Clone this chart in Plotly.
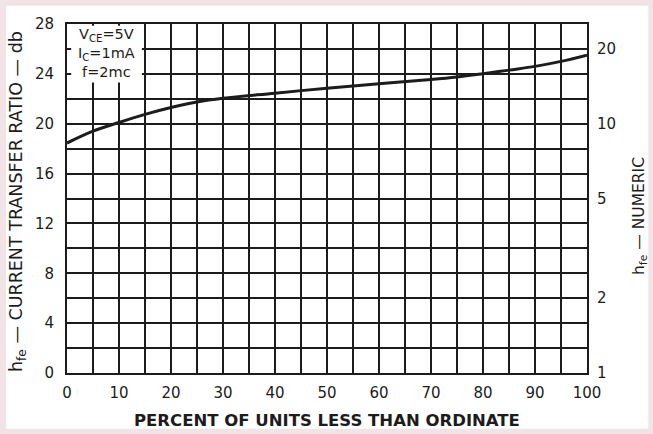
import plotly.graph_objects as go
import numpy as np

# Data
pct = [0, 5, 10, 15, 20, 25, 30, 40, 50, 60, 70, 75, 80, 85, 90, 95, 100]
hfe_db = [18.45, 19.4, 20.1, 20.75, 21.3, 21.75, 22.05, 22.45, 22.85, 23.2, 23.55, 23.75, 24.0, 24.3, 24.6, 25.0, 25.5]

x_ticks = [0, 10, 20, 30, 40, 50, 60, 70, 80, 90, 100]
y_ticks = [0, 4, 8, 12, 16, 20, 24, 28]
numeric_vals = [1, 2, 5, 10, 20]
numeric_labels = ["1", "2", "5", "10", "20"]

INK = "#1c1c1c"
FONT = "DejaVu Sans, sans-serif"

fig = go.Figure()
fig.add_trace(go.Scatter(x=pct, y=hfe_db, mode="lines",
                         line=dict(color=INK, width=3, shape="spline", smoothing=1.0),
                         showlegend=False, hoverinfo="skip"))
# invisible trace for the right axis
fig.add_trace(go.Scatter(x=[0], y=[0], yaxis="y2", mode="markers",
                         marker=dict(opacity=0), showlegend=False, hoverinfo="skip"))

fig.update_layout(
    width=653, height=434,
    margin=dict(l=67, r=66, t=24, b=61),
    paper_bgcolor="#f2e3e7",
    plot_bgcolor="white",
    font=dict(family=FONT, color=INK, size=15),
    xaxis=dict(range=[0, 100], tickvals=x_ticks, ticks="", showgrid=True,
               gridcolor=INK, gridwidth=2, showline=True, linecolor=INK, linewidth=2,
               mirror=True, zeroline=False, ticklabelstandoff=5,
               minor=dict(dtick=5, showgrid=True, gridcolor=INK, gridwidth=2),
               tickfont=dict(size=15)),
    yaxis=dict(range=[0, 28], tickvals=y_ticks, ticks="", showgrid=True,
               gridcolor=INK, gridwidth=2, showline=True, linecolor=INK, linewidth=2,
               mirror=True, zeroline=False, ticklabelstandoff=8,
               minor=dict(dtick=2, showgrid=True, gridcolor=INK, gridwidth=2),
               tickfont=dict(size=15)),
    yaxis2=dict(range=[0, 28], overlaying="y", side="right",
                tickvals=[20 * np.log10(v) for v in numeric_vals], ticktext=numeric_labels,
                ticks="", showgrid=False, zeroline=False, showline=False,
                ticklabelstandoff=9, tickfont=dict(size=15)),
    shapes=[
        # white page inside the pink border
        dict(type="rect", xref="paper", yref="paper", x0=-0.117, x1=1.118, y0=-0.16, y1=1.052,
             fillcolor="white", line=dict(width=0), layer="below"),
        # white box behind the conditions text
        dict(type="rect", xref="x", yref="y", x0=0.8, x1=14.4, y0=23.3, y1=27.85,
             fillcolor="white", line=dict(width=0), layer="between"),
    ],
    annotations=[
        dict(text="V<sub>CE</sub>=5V<br>I<sub>C</sub>=1mA<br>f=2mc", x=7.6, y=25.65,
             xref="x", yref="y", showarrow=False, align="center",
             xanchor="center", yanchor="middle",
             font=dict(size=14.5, color=INK)),
        dict(text="h<sub>fe</sub> — CURRENT TRANSFER RATIO — db", textangle=-90,
             xref="paper", yref="paper", x=-0.094, y=0.49, showarrow=False,
             xanchor="center", yanchor="middle",
             font=dict(size=17.5, color=INK)),
        dict(text="h<sub>fe</sub> — NUMERIC", textangle=-90,
             xref="paper", yref="paper", x=1.102, y=0.45, showarrow=False,
             xanchor="center", yanchor="middle",
             font=dict(size=15.5, color=INK)),
        dict(text="<b>PERCENT OF UNITS LESS THAN ORDINATE</b>",
             xref="paper", yref="paper", x=0.5, y=-0.135, showarrow=False,
             xanchor="center", yanchor="middle",
             font=dict(size=16.5, color=INK)),
    ],
)

fig.write_html("out.html", config={"displayModeBar": False},
               post_script="document.body.style.margin='0';")
